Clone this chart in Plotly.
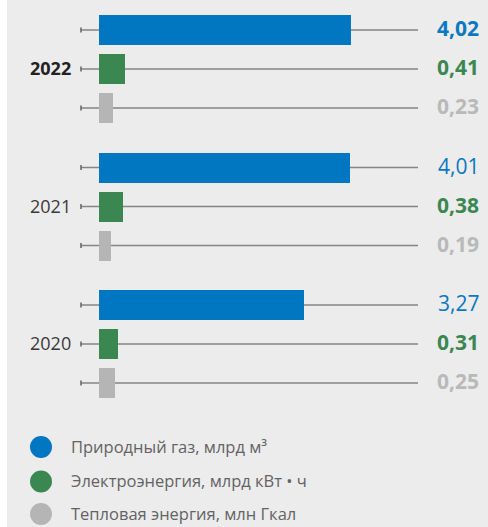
import plotly.graph_objects as go

# Consumption by year and resource
years = ["2022", "2021", "2020"]
series_names = [
    "Природный газ, млрд м³",
    "Электроэнергия, млрд кВт • ч",
    "Тепловая энергия, млн Гкал",
]
gas = [4.02, 4.01, 3.27]
power = [0.41, 0.38, 0.31]
heat = [0.23, 0.19, 0.25]
value_labels = [
    ["4,02", "4,01", "3,27"],
    ["0,41", "0,38", "0,31"],
    ["0,23", "0,19", "0,25"],
]

series_values = [gas, power, heat]
bar_colors = ["#0077c0", "#3a8752", "#b4b5b4"]
text_colors = ["#0a78c2", "#3a8752", "#b8b9b8"]

W, H = 488, 527
FONT = "Open Sans"

# Geometry (pixels -> axis units)
PX_PER_UNIT = 62.7      # horizontal scale
X_ORIGIN_PX = 99        # where value 0 sits
ROW_PX = 39             # vertical step between bars in a group
FIRST_ROW_PX = 30       # centre of the first bar
GROUP_STEP = 3.526      # group step in row units
BAR_W = 30 / ROW_PX


def px_x(px):
    return (px - X_ORIGIN_PX) / PX_PER_UNIT


def row_pos(g, s):
    return g * GROUP_STEP + s


fig = go.Figure()

shapes = [
    dict(type="rect", xref="paper", yref="paper", x0=7 / W, x1=1, y0=0, y1=1,
         fillcolor="#ececec", line=dict(width=0), layer="below"),
]

line_x0, line_x1 = px_x(81), px_x(418)
tick_half = 2.5 / ROW_PX
for g in range(len(years)):
    for s in range(len(series_values)):
        y = row_pos(g, s)
        shapes.append(dict(type="line", xref="x", yref="y", x0=line_x0, x1=line_x1,
                           y0=y, y1=y, line=dict(color="#858585", width=1.6),
                           layer="below"))
        shapes.append(dict(type="line", xref="x", yref="y", x0=line_x0, x1=line_x0,
                           y0=y - tick_half, y1=y + tick_half,
                           line=dict(color="#6a6a6a", width=1.6), layer="below"))

for s, vals in enumerate(series_values):
    fig.add_trace(go.Bar(
        orientation="h",
        x=vals,
        y=[row_pos(g, s) for g in range(len(years))],
        width=BAR_W,
        marker=dict(color=bar_colors[s], line=dict(width=0)),
        name=series_names[s],
        showlegend=False,
        hoverinfo="skip",
    ))

annotations = []
for g, year in enumerate(years):
    bold_year = g == 0
    annotations.append(dict(
        xref="paper", yref="y", x=73 / W, y=row_pos(g, 1), yshift=1,
        xanchor="right", yanchor="middle", showarrow=False,
        text=f"<b>{year}</b>" if bold_year else year,
        font=dict(family=FONT, size=18, color="#222222" if bold_year else "#3a3a3a"),
    ))
    for s in range(len(series_values)):
        bold = s != 0 or g == 0
        t = value_labels[s][g]
        annotations.append(dict(
            xref="paper", yref="y", x=481 / W, y=row_pos(g, s), yshift=2,
            xanchor="right", yanchor="middle", showarrow=False,
            text=f"<b>{t}</b>" if bold else t,
            font=dict(family=FONT, size=21, color=text_colors[s]),
        ))

# Legend: circles and captions
legend_rows_px = [447, 481.5, 514]
for s, name in enumerate(series_names):
    yc = 1 - legend_rows_px[s] / H
    shapes.append(dict(type="circle", xref="paper", yref="paper",
                       xsizemode="pixel", ysizemode="pixel",
                       xanchor=41 / W, yanchor=yc, x0=-11, x1=11, y0=-11, y1=11,
                       fillcolor=bar_colors[s], line=dict(width=0)))
    annotations.append(dict(
        xref="paper", yref="paper", x=69 / W, y=yc, yshift=1,
        xanchor="left", yanchor="middle", showarrow=False,
        text=name, font=dict(family=FONT, size=16.5, color="#636363"),
    ))

fig.update_layout(
    width=W, height=H,
    margin=dict(l=0, r=0, t=0, b=0, pad=0),
    paper_bgcolor="#ffffff",
    plot_bgcolor="rgba(0,0,0,0)",
    barmode="overlay",
    bargap=0,
    shapes=shapes,
    annotations=annotations,
    xaxis=dict(range=[px_x(0), px_x(W)], visible=False, fixedrange=True),
    yaxis=dict(range=[(H - FIRST_ROW_PX) / ROW_PX, -FIRST_ROW_PX / ROW_PX],
               visible=False, fixedrange=True),
)

fig.write_html("out.html")
